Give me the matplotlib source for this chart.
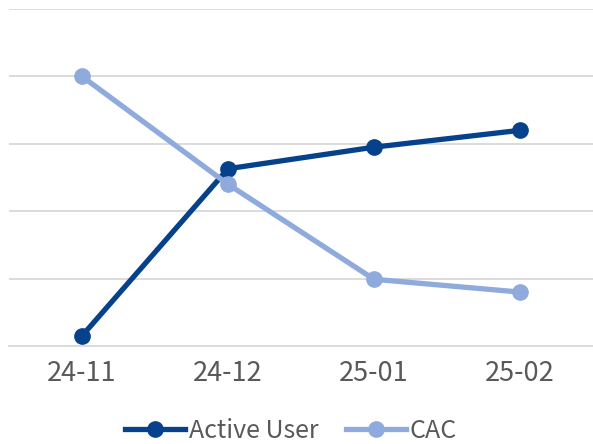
import matplotlib
matplotlib.use("Agg")
import matplotlib.pyplot as plt

categories = ["24-11", "24-12", "25-01", "25-02"]
active_user = [0.15, 2.63, 2.95, 3.2]
cac = [4.0, 2.4, 0.99, 0.8]

plt.rcParams['font.family'] = ['Noto Sans CJK KR', 'DejaVu Sans']

fig = plt.figure(figsize=(5.93, 4.44), dpi=100)
ax = fig.add_axes([9/593, 1-346/444, 584/593, 337/444])

x = list(range(len(categories)))
ax.plot(x, active_user, color="#06418b", lw=3.8, marker="o", ms=11, label="Active User", zorder=3)
ax.plot(x, cac, color="#8faadc", lw=3.8, marker="o", ms=11, label="CAC", zorder=3)

ax.set_xlim(-0.5, 3.5)
ax.set_ylim(0, 5)
ax.set_yticks([0, 1, 2, 3, 4, 5])
ax.set_yticklabels([])
ax.yaxis.grid(True, color="#d9d9d9", lw=1.3)
ax.set_axisbelow(True)
ax.tick_params(axis='y', length=0)
ax.tick_params(axis='x', length=0, labelsize=19.5, labelcolor="#595959", pad=10)
ax.set_xticks(x)
ax.set_xticklabels(categories)
for s in ["top", "right", "left"]:
    ax.spines[s].set_visible(False)
ax.spines["bottom"].set_color("#d9d9d9")
ax.spines["bottom"].set_linewidth(1.3)

leg = fig.legend(loc="center", bbox_to_anchor=(291/593, 1-431/444), ncol=2, frameon=False,
                 fontsize=18, handlelength=2.4, handletextpad=0.15, columnspacing=1.1,
                 labelcolor="#595959")

fig.savefig("out.png", dpi=100)
